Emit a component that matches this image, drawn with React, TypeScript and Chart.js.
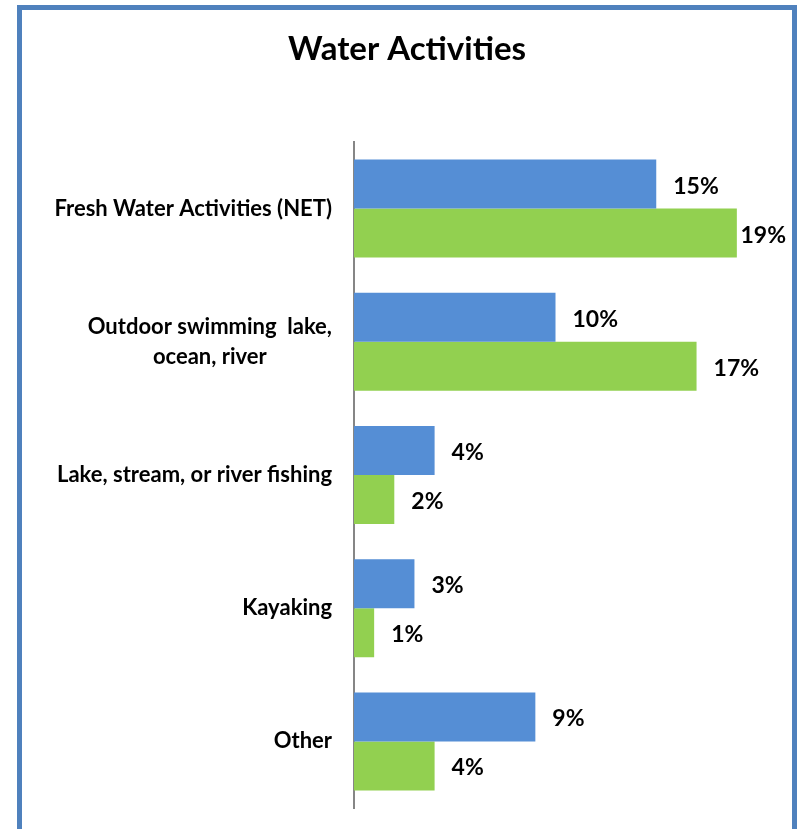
import React, { useEffect, useRef } from "react";
import { Chart, registerables } from "chart.js";

Chart.register(...registerables);

const TITLE = "Water Activities";
const categories: string[][] = [
  ["Fresh Water Activities (NET)"],
  ["Outdoor swimming  lake,", "ocean, river"],
  ["Lake, stream, or river fishing"],
  ["Kayaking"],
  ["Other"],
];
const seriesBlue = [15, 10, 4, 3, 9];
const seriesGreen = [19, 17, 2, 1, 4];
const BLUE = "#558ED5";
const GREEN = "#92D050";
const FONT = "Lato";

const labelsPlugin = {
  id: "customLabels",
  afterDatasetsDraw(chart: any) {
    const ctx = chart.ctx;
    const yScale = chart.scales.y;
    const area = chart.chartArea;
    ctx.save();
    ctx.fillStyle = "#000";
    // category labels
    ctx.font = `bold 22px ${FONT}`;
    ctx.textBaseline = "middle";
    ctx.textAlign = "center";
    const rightEdge = area.left - 22;
    const lineH = 30;
    categories.forEach((lines, i) => {
      const cy = yScale.getPixelForValue(i);
      const maxW = Math.max(...lines.map((l) => ctx.measureText(l).width));
      const cx = rightEdge - maxW / 2;
      const startY = cy - ((lines.length - 1) * lineH) / 2;
      lines.forEach((l, j) => ctx.fillText(l, cx, startY + j * lineH));
    });
    // value labels
    ctx.font = `bold 23px ${FONT}`;
    ctx.textAlign = "left";
    chart.data.datasets.forEach((ds: any, di: number) => {
      const meta = chart.getDatasetMeta(di);
      meta.data.forEach((bar: any, i: number) => {
        const text = `${ds.data[i]}%`;
        const w = ctx.measureText(text).width;
        let x = bar.x + 17;
        if (x + w > 786) x = 786 - w;
        ctx.fillText(text, x, bar.y + 2);
      });
    });
    ctx.restore();
  },
};

export default function App() {
  const ref = useRef<HTMLCanvasElement>(null);
  useEffect(() => {
    document.body.style.margin = "0";
    const chart = new Chart(ref.current!, {
      type: "bar",
      data: {
        labels: categories.map((c) => c.join(" ")),
        datasets: [
          { label: "Series 1", data: seriesBlue, backgroundColor: BLUE },
          { label: "Series 2", data: seriesGreen, backgroundColor: GREEN },
        ],
      },
      options: {
        indexAxis: "y",
        animation: false,
        responsive: false,
        events: [],
        layout: { padding: { left: 57, right: 44, top: 0, bottom: 21 } },
        datasets: { bar: { categoryPercentage: 0.736, barPercentage: 1 } },
        scales: {
          x: { display: false, min: 0, max: 20 },
          y: {
            grid: { display: false, drawTicks: false },
            border: { display: true, color: "#868686", width: 2 },
            ticks: { display: false },
            afterFit: (s: any) => {
              s.width = 297;
            },
          },
        },
        plugins: {
          legend: { display: false },
          tooltip: { enabled: false },
          title: {
            display: true,
            text: TITLE,
            color: "#000",
            font: { family: FONT, size: 33, weight: "bold", lineHeight: 1.2 },
            padding: { top: 30, bottom: 72.4 },
          },
        },
      },
      plugins: [labelsPlugin],
    });
    return () => chart.destroy();
  }, []);
  return (
    <div style={{ position: "relative", width: 801, height: 829, overflow: "hidden", background: "#fff" }}>
      <div
        style={{
          position: "absolute",
          left: 17,
          top: 5,
          width: 780,
          height: 840,
          border: "5px solid #4F81BD",
          boxSizing: "border-box",
        }}
      />
      <canvas ref={ref} width={801} height={829} style={{ position: "absolute", left: 0, top: 0 }} />
    </div>
  );
}
